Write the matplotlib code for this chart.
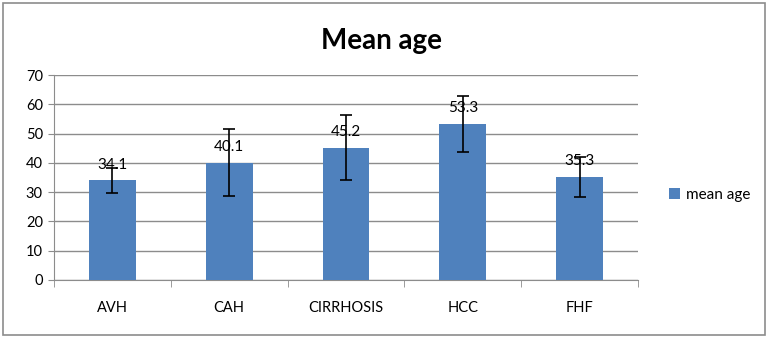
import numpy as np
import matplotlib
matplotlib.use("Agg")
import matplotlib.pyplot as plt
from matplotlib.patches import Rectangle

groups = ["AVH", "CAH", "CIRRHOSIS", "HCC", "FHF"]
mean_age = [34.1, 40.1, 45.2, 53.3, 35.3]
sd_age = [4.3, 11.5, 11.0, 9.6, 6.8]

plt.rcParams['font.family'] = ['Lato', 'DejaVu Sans']

fig = plt.figure(figsize=(7.68, 3.38), dpi=100)
fig.patches.append(Rectangle((0.004, 0.009), 0.992, 0.982, transform=fig.transFigure,
                             fill=False, edgecolor='#8c8c8c', linewidth=1.2))

ax = fig.add_axes([0.0703, 0.1716, 0.7604, 0.6064])
x = np.arange(len(groups))
ax.bar(x, mean_age, width=0.4, color='#4f81bd', label='mean age', zorder=3)
ax.errorbar(x, mean_age, yerr=sd_age, fmt='none', ecolor='black',
            elinewidth=1.2, capsize=4, capthick=1.2, zorder=4)
for xi, v in zip(x, mean_age):
    ax.text(xi, v + 2.9, f"{v}", ha='center', va='bottom', fontsize=11, zorder=5)

ax.set_xlim(-0.5, len(groups) - 0.5)
ax.set_ylim(0, 70)
ax.set_yticks(range(0, 71, 10))
ax.yaxis.grid(True, color='#8c8c8c', linewidth=1)
ax.set_axisbelow(True)
ax.set_xticks(x)
ax.set_xticklabels(groups, fontsize=10.5)
ax.set_xticks(np.arange(-0.5, len(groups)), minor=True)
ax.tick_params(axis='x', which='major', length=0, pad=15)
ax.tick_params(axis='x', which='minor', length=5, color='#8c8c8c')
ax.tick_params(axis='y', length=4, color='#8c8c8c', labelsize=10.5, pad=4)
for s in ['top', 'right']:
    ax.spines[s].set_visible(False)
ax.spines['left'].set_color('#8c8c8c')
ax.spines['bottom'].set_color('#8c8c8c')

# chart title sits centred on the whole figure, not the plot area
fig.text(0.497, 0.88, "Mean age", fontsize=20, fontweight='bold',
         ha='center', va='center')
ax.legend(loc='center left', bbox_to_anchor=(1.03, 0.415), frameon=False,
          fontsize=11, handlelength=0.7, handleheight=0.7, handletextpad=0.4)

fig.savefig("out.png", dpi=100)
